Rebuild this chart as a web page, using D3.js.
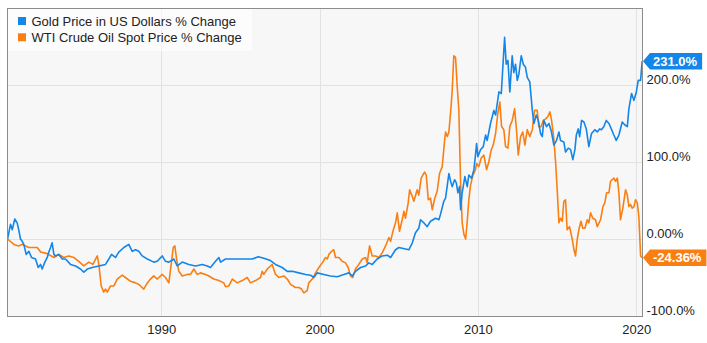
<!DOCTYPE html>
<html>
<head>
<meta charset="utf-8">
<script src="https://cdn.jsdelivr.net/npm/d3@7"></script>
<style>
  html, body { margin: 0; padding: 0; background: #ffffff; }
  svg { display: block; font-family: "Liberation Sans", Arial, sans-serif; }
</style>
</head>
<body>
<svg id="chart" width="707" height="343"></svg>
<script>
// ---- Data ----
const seriesNames = ["Gold Price in US Dollars % Change", "WTI Crude Oil Spot Price % Change"];

const goldYears = [1980.29,1980.48,1980.59,1980.75,1980.90,1981.00,1981.11,1981.22,1981.32,1981.47,1981.64,1981.81,1982.06,1982.23,1982.38,1982.48,1982.65,1982.80,1982.90,1983.01,1983.11,1983.22,1983.32,1983.53,1983.75,1983.95,1984.27,1984.59,1984.90,1985.11,1985.33,1985.64,1986.06,1986.48,1986.69,1986.86,1987.11,1987.32,1987.64,1987.95,1988.17,1988.38,1988.58,1988.80,1989.12,1989.53,1989.75,1990.06,1990.27,1990.48,1990.80,1991.01,1991.33,1991.74,1992.17,1992.59,1992.91,1993.11,1993.43,1993.64,1993.75,1994.06,1994.49,1994.90,1995.33,1995.75,1996.13,1996.48,1996.90,1997.22,1997.64,1997.96,1998.28,1998.69,1999.12,1999.43,1999.64,1999.85,2000.27,2000.69,2001.12,2001.54,2001.85,2002.07,2002.27,2002.59,2002.91,2003.11,2003.33,2003.64,2003.96,2004.28,2004.49,2004.80,2005.01,2005.64,2005.86,2006.06,2006.27,2006.38,2006.59,2006.80,2007.01,2007.33,2007.54,2007.64,2007.85,2007.96,2008.17,2008.28,2008.38,2008.53,2008.64,2008.74,2008.84,2008.91,2009.01,2009.18,2009.33,2009.43,2009.60,2009.75,2009.85,2009.92,2010.00,2010.17,2010.34,2010.49,2010.59,2010.80,2011.01,2011.12,2011.33,2011.48,2011.69,2011.79,2011.90,2012.02,2012.17,2012.27,2012.38,2012.49,2012.59,2012.74,2012.87,2013.01,2013.12,2013.28,2013.44,2013.54,2013.69,2013.82,2013.96,2014.07,2014.17,2014.34,2014.49,2014.64,2014.80,2014.97,2015.12,2015.22,2015.43,2015.54,2015.71,2015.86,2016.00,2016.13,2016.22,2016.34,2016.43,2016.55,2016.70,2016.85,2017.01,2017.18,2017.39,2017.54,2017.69,2017.81,2017.96,2018.11,2018.28,2018.45,2018.59,2018.74,2018.91,2019.12,2019.29,2019.44,2019.54,2019.71,2019.86,2020.01,2020.13,2020.28,2020.38];
const goldValues = [0,19,12,26,21,12,0,-3,-7,-20,-16,-24,-26,-37,-33,-39,-30,-24,-17,-11,-5,-20,-22,-20,-26,-26,-33,-35,-39,-43,-39,-37,-35,-33,-26,-20,-24,-17,-11,-7,-16,-14,-16,-22,-26,-30,-29,-22,-29,-30,-26,-35,-30,-33,-35,-33,-35,-37,-29,-24,-30,-26,-26,-26,-26,-26,-23,-25,-28,-33,-37,-42,-42,-44,-46,-47,-50,-44,-46,-48,-49,-46,-44,-48,-42,-37,-35,-31,-33,-26,-22,-21,-24,-14,-11,-14,-5,8,14,25,21,16,23,27,25,32,49,53,85,75,68,77,73,60,68,38,60,81,68,83,79,90,109,124,107,116,120,135,128,150,167,161,191,189,262,227,232,191,238,216,227,206,214,238,227,223,210,204,167,150,161,154,137,133,154,146,150,140,122,128,139,128,126,113,118,116,103,116,135,143,133,154,152,143,120,137,142,139,143,142,146,154,150,142,135,128,135,152,148,146,169,189,180,191,206,206,231.0];

const oilYears = [1980.29,1980.69,1981.00,1981.22,1981.43,1981.64,1982.17,1982.38,1982.80,1983.22,1983.53,1983.85,1984.16,1984.48,1984.79,1985.11,1985.43,1985.68,1985.96,1986.06,1986.21,1986.37,1986.48,1986.59,1986.80,1987.01,1987.22,1987.54,1987.74,1988.06,1988.38,1988.58,1988.69,1988.90,1989.12,1989.32,1989.53,1989.75,1990.06,1990.27,1990.48,1990.63,1990.76,1990.86,1990.97,1991.11,1991.33,1991.64,1991.85,1992.06,1992.27,1992.48,1992.80,1993.01,1993.32,1993.64,1993.95,1994.06,1994.27,1994.49,1994.80,1995.12,1995.43,1995.64,1995.96,1996.27,1996.38,1996.48,1996.70,1996.80,1997.01,1997.22,1997.43,1997.74,1997.96,1998.17,1998.48,1998.69,1998.86,1999.01,1999.22,1999.32,1999.54,1999.75,1999.96,2000.17,2000.38,2000.49,2000.59,2000.76,2000.90,2001.01,2001.22,2001.43,2001.64,2001.81,2001.96,2002.10,2002.27,2002.48,2002.70,2002.91,2003.01,2003.16,2003.33,2003.54,2003.75,2003.96,2004.17,2004.38,2004.49,2004.59,2004.69,2004.80,2004.91,2005.05,2005.22,2005.33,2005.43,2005.60,2005.69,2005.86,2005.96,2006.17,2006.27,2006.42,2006.63,2006.74,2006.87,2007.01,2007.12,2007.28,2007.43,2007.58,2007.75,2007.90,2007.96,2008.07,2008.17,2008.29,2008.38,2008.48,2008.59,2008.70,2008.80,2008.91,2009.01,2009.12,2009.23,2009.33,2009.43,2009.54,2009.69,2009.85,2009.92,2010.06,2010.21,2010.38,2010.55,2010.69,2010.85,2010.97,2011.12,2011.26,2011.39,2011.50,2011.64,2011.75,2011.90,2012.02,2012.17,2012.32,2012.44,2012.55,2012.70,2012.84,2012.97,2013.12,2013.28,2013.44,2013.58,2013.75,2013.85,2014.00,2014.13,2014.28,2014.42,2014.55,2014.65,2014.80,2014.91,2015.01,2015.12,2015.22,2015.33,2015.43,2015.54,2015.64,2015.79,2015.96,2016.07,2016.17,2016.28,2016.38,2016.51,2016.63,2016.76,2016.91,2017.01,2017.12,2017.26,2017.43,2017.54,2017.75,2017.90,2018.02,2018.13,2018.28,2018.38,2018.49,2018.59,2018.70,2018.81,2018.91,2019.01,2019.16,2019.33,2019.44,2019.54,2019.64,2019.75,2019.86,2019.96,2020.07,2020.17,2020.28,2020.38];
const oilValues = [0,-7,-9,-7,-9,-11,-11,-17,-19,-24,-20,-24,-22,-24,-29,-35,-30,-33,-22,-33,-61,-69,-65,-69,-61,-61,-52,-47,-50,-55,-57,-59,-61,-65,-57,-52,-48,-52,-46,-50,-57,-33,-11,-9,-26,-42,-48,-46,-46,-39,-46,-44,-46,-48,-52,-54,-57,-62,-61,-52,-57,-54,-50,-57,-54,-50,-42,-46,-39,-37,-33,-46,-50,-48,-52,-59,-63,-63,-65,-70,-67,-57,-52,-44,-37,-31,-24,-26,-20,-16,-14,-24,-24,-29,-31,-37,-48,-50,-39,-33,-26,-24,-31,-9,-22,-22,-24,-18,-9,2,-3,6,14,21,34,10,25,36,27,47,64,55,49,64,57,79,87,83,51,53,38,53,62,85,94,128,139,133,139,167,193,238,236,197,167,73,21,6,0,23,51,70,83,90,98,94,105,109,90,100,116,122,137,163,178,146,142,120,118,146,154,169,142,109,133,139,122,142,133,142,167,167,146,146,154,156,159,165,155,130,100,65,21,27,23,49,51,12,16,0,-14,-22,0,12,23,14,14,25,21,34,27,25,16,25,42,47,60,60,75,77,79,75,79,60,25,40,64,57,42,45,40,42,51,47,29,-22,-24.36];

const xTickValues = [1990, 2000, 2010, 2020];
const yTickValues = [-100, 0, 100, 200];
const yTickLabels = ["-100.0%", "0.00%", "100.0%", "200.0%"];
const lastLabels = ["231.0%", "-24.36%"];

// ---- Layout ----
const colors = ["#1386e8", "#fa7f12"];
const plot = { left: 7.5, right: 642.5, top: 8, bottom: 316 };

const svg = d3.select("#chart");
const x = d3.scaleLinear().domain([1980.29, 2020.40]).range([plot.left, plot.right]);
const y = d3.scaleLinear().domain([-100, 300]).range([plot.bottom, plot.top]);

// plot background
svg.append("rect")
  .attr("x", plot.left).attr("y", plot.top)
  .attr("width", plot.right - plot.left).attr("height", plot.bottom - plot.top)
  .attr("fill", "#f7f7f7");

// gridlines
const grid = svg.append("g").attr("stroke", "#e2e2e2").attr("stroke-width", 1);
grid.selectAll("line.h").data(yTickValues.filter(v => v > -100)).join("line")
  .attr("x1", plot.left).attr("x2", plot.right)
  .attr("y1", d => Math.round(y(d)) + 0.5).attr("y2", d => Math.round(y(d)) + 0.5);
grid.selectAll("line.v").data(xTickValues).join("line")
  .attr("y1", plot.top).attr("y2", plot.bottom)
  .attr("x1", d => Math.round(x(d)) + 0.5).attr("x2", d => Math.round(x(d)) + 0.5);

// lines
const series = [
  goldYears.map((t, i) => [t, goldValues[i]]),
  oilYears.map((t, i) => [t, oilValues[i]])
];
const lineGen = d3.line().x(d => x(d[0])).y(d => y(d[1]));
const clip = svg.append("clipPath").attr("id", "clip").append("rect")
  .attr("x", plot.left).attr("y", plot.top)
  .attr("width", plot.right - plot.left).attr("height", plot.bottom - plot.top);
// draw oil first then gold on top? In reference gold appears above in later years; draw oil then gold
[1, 0].forEach(i => {
  svg.append("path")
    .datum(series[i])
    .attr("clip-path", "url(#clip)")
    .attr("fill", "none")
    .attr("stroke", colors[i])
    .attr("stroke-width", 1.6)
    .attr("stroke-linejoin", "round")
    .attr("d", lineGen);
});

// frame
svg.append("rect")
  .attr("x", plot.left).attr("y", plot.top + 0.5)
  .attr("width", plot.right - plot.left).attr("height", plot.bottom - plot.top)
  .attr("fill", "none").attr("stroke", "#8c8c8c").attr("stroke-width", 1);

// axes
const yAxis = d3.axisRight(y).tickValues(yTickValues).tickSize(0)
  .tickFormat((d, i) => yTickLabels[i]);
const gy = svg.append("g").attr("transform", `translate(${plot.right + 4},0)`).call(yAxis);
gy.select(".domain").remove();
gy.selectAll("text")
  .attr("x", 0).attr("dy", "0.35em")
  .attr("transform", "translate(0,-6)")
  .attr("fill", "#222").style("font-size", "13px");

const xAxis = d3.axisBottom(x).tickValues(xTickValues).tickSize(0).tickFormat(d3.format("d"));
const gx = svg.append("g").attr("transform", `translate(0,${plot.bottom})`).call(xAxis);
gx.select(".domain").remove();
gx.selectAll("text")
  .attr("y", 13).attr("dy", "0.35em")
  .attr("fill", "#222").style("font-size", "13px");

// last value labels
series.forEach((s, i) => {
  const last = s[s.length - 1];
  const cy = y(last[1]);
  const tipX = plot.right + 0.5;
  const g = svg.append("g");
  const txt = g.append("text")
    .attr("x", tipX + 10).attr("y", cy).attr("dy", "0.35em")
    .attr("fill", "#fff").attr("font-weight", "bold").style("font-size", "13px")
    .text(lastLabels[i]);
  const w = txt.node().getComputedTextLength();
  const h = 16.5;
  const bx = tipX + 7, ex = tipX + 10 + w + 5;
  g.insert("path", "text")
    .attr("d", `M${tipX},${cy} L${bx},${cy - h / 2} L${ex},${cy - h / 2} L${ex},${cy + h / 2} L${bx},${cy + h / 2} Z`)
    .attr("fill", colors[i]);
});

// legend
const legend = svg.append("g");
legend.append("rect")
  .attr("x", plot.left + 0.5).attr("y", plot.top + 1)
  .attr("width", 244).attr("height", 42)
  .attr("fill", "rgba(255,255,255,0.6)");
seriesNames.forEach((name, i) => {
  const cy = 21 + i * 16.3;
  legend.append("rect")
    .attr("x", 18).attr("y", cy - 4).attr("width", 8).attr("height", 8)
    .attr("fill", colors[i]);
  legend.append("text")
    .attr("x", 31.5).attr("y", cy).attr("dy", "0.35em")
    .attr("fill", "#222").style("font-size", "13px")
    .text(name);
});
</script>
</body>
</html>
